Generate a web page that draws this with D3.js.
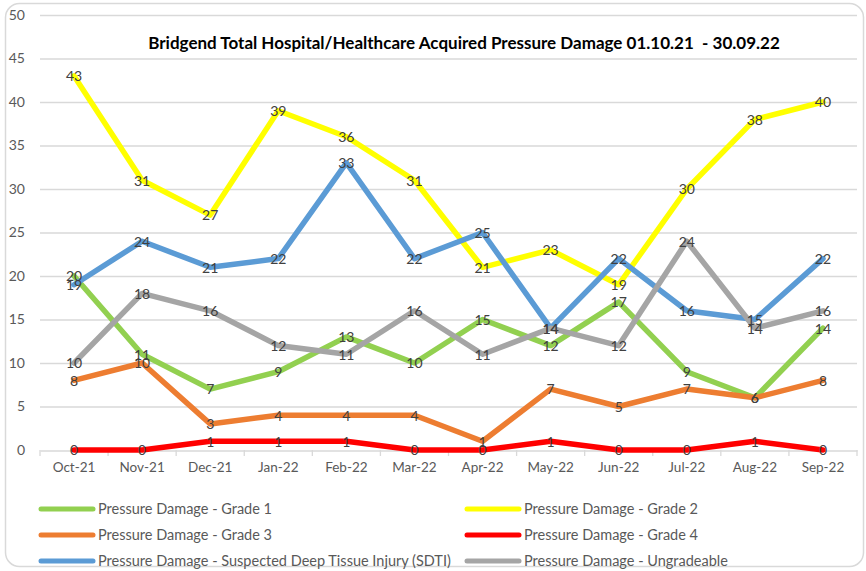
<!DOCTYPE html>
<html>
<head>
<meta charset="utf-8">
<script src="https://cdn.jsdelivr.net/npm/d3@7"></script>
<style>
  body { margin: 0; background: #fff; }
  svg { display: block; font-family: Lato, "Open Sans", sans-serif; }
</style>
</head>
<body>
<svg id="chart" width="866" height="571"></svg>
<script>
var months = ["Oct-21", "Nov-21", "Dec-21", "Jan-22", "Feb-22", "Mar-22", "Apr-22", "May-22", "Jun-22", "Jul-22", "Aug-22", "Sep-22"];
var yTicks = [0, 5, 10, 15, 20, 25, 30, 35, 40, 45, 50];

var grade1 = [20, 11, 7, 9, 13, 10, 15, 12, 17, 9, 6, 14];
var grade2 = [43, 31, 27, 39, 36, 31, 21, 23, 19, 30, 38, 40];
var grade3 = [8, 10, 3, 4, 4, 4, 1, 7, 5, 7, 6, 8];
var grade4 = [0, 0, 1, 1, 1, 0, 0, 1, 0, 0, 1, 0];
var sdti = [19, 24, 21, 22, 33, 22, 25, 14, 22, 16, 15, 22];
var ungradeable = [10, 18, 16, 12, 11, 16, 11, 14, 12, 24, 14, 16];

var seriesNames = [
  "Pressure Damage - Grade 1",
  "Pressure Damage - Grade 2",
  "Pressure Damage - Grade 3",
  "Pressure Damage - Grade 4",
  "Pressure Damage - Suspected Deep Tissue Injury (SDTI)",
  "Pressure Damage - Ungradeable"
];
var seriesValues = [grade1, grade2, grade3, grade4, sdti, ungradeable];
var seriesColors = ["#92D050", "#FFFF00", "#ED7D31", "#FF0000", "#5B9BD5", "#A5A5A5"];

var title = "Bridgend Total Hospital/Healthcare Acquired Pressure Damage 01.10.21  - 30.09.22";

var svg = d3.select("#chart");

// chart frame
svg.append("rect")
    .attr("x", 5.5).attr("y", 3.5)
    .attr("width", 858).attr("height", 563)
    .attr("rx", 14).attr("ry", 14)
    .attr("fill", "#fff")
    .attr("stroke", "#D9D9D9")
    .attr("stroke-width", 1.5);

var plotLeft = 40, plotRight = 857, plotTop = 15, plotBottom = 450;

var x = d3.scaleBand().domain(months).range([plotLeft, plotRight]);
var y = d3.scaleLinear().domain([0, 50]).range([plotBottom, plotTop]);

// gridlines
svg.append("g")
    .selectAll("line")
    .data(yTicks.filter(function(d) { return d > 0; }))
    .join("line")
    .attr("x1", plotLeft).attr("x2", plotRight)
    .attr("y1", function(d) { return y(d) + 0.5; })
    .attr("y2", function(d) { return y(d) + 0.5; })
    .attr("stroke", "#D9D9D9")
    .attr("stroke-width", 1.3);

// y labels
svg.append("g")
    .selectAll("text")
    .data(yTicks)
    .join("text")
    .attr("x", 25)
    .attr("y", function(d) { return y(d); })
    .attr("dy", "0.35em")
    .attr("text-anchor", "end")
    .attr("fill", "#595959")
    .style("font-size", "14px")
    .text(function(d) { return d; });

// x axis
var xAxis = svg.append("g")
    .attr("transform", "translate(0," + (plotBottom + 0.5) + ")")
    .call(d3.axisBottom(x).tickSize(0).tickPadding(12));
xAxis.select(".domain").attr("stroke", "#D9D9D9").attr("stroke-width", 1.3);
xAxis.selectAll("text")
    .attr("fill", "#595959")
    .style("font-size", "13.5px")
    .style("font-family", "Lato, sans-serif");

// boundary tick marks
svg.append("g")
    .selectAll("line")
    .data(months.concat(["end"]))
    .join("line")
    .attr("x1", function(d, i) { return plotLeft + i * x.step(); })
    .attr("x2", function(d, i) { return plotLeft + i * x.step(); })
    .attr("y1", plotBottom).attr("y2", plotBottom + 6)
    .attr("stroke", "#D9D9D9")
    .attr("stroke-width", 1.3);

// title
svg.append("text")
    .attr("x", 464)
    .attr("y", 49)
    .attr("text-anchor", "middle")
    .attr("xml:space", "preserve")
    .style("white-space", "pre")
    .attr("fill", "#000")
    .style("font-size", "17px")
    .style("font-weight", "bold")
    .text(title);

var line = d3.line()
    .x(function(d, i) { return x(months[i]) + x.bandwidth() / 2; })
    .y(function(d) { return y(d); });

// lines
seriesValues.forEach(function(vals, s) {
    svg.append("path")
        .datum(vals)
        .attr("d", line)
        .attr("fill", "none")
        .attr("stroke", seriesColors[s])
        .attr("stroke-width", 5.5)
        .attr("stroke-linejoin", "round")
        .attr("stroke-linecap", "round");
});

// data labels
seriesValues.forEach(function(vals, s) {
    svg.append("g")
        .selectAll("text")
        .data(vals)
        .join("text")
        .attr("x", function(d, i) { return x(months[i]) + x.bandwidth() / 2; })
        .attr("y", function(d) { return y(d); })
        .attr("dy", "0.38em")
        .attr("text-anchor", "middle")
        .attr("fill", "#404040")
        .style("font-size", "14px")
        .text(function(d) { return d; });
});

// legend
var legend = svg.append("g");
seriesNames.forEach(function(name, s) {
    var col = s % 2, row = Math.floor(s / 2);
    var lx = 41 + col * 426, ly = 509 + row * 26;
    var item = legend.append("g").attr("transform", "translate(" + lx + "," + ly + ")");
    item.append("line")
        .attr("x1", 0).attr("x2", 52)
        .attr("y1", 0).attr("y2", 0)
        .attr("stroke", seriesColors[s])
        .attr("stroke-width", 5)
        .attr("stroke-linecap", "round");
    item.append("text")
        .attr("x", 57)
        .attr("y", 0)
        .attr("dy", "0.35em")
        .attr("fill", "#595959")
        .style("font-size", "14.5px")
        .text(name);
});
</script>
</body>
</html>
